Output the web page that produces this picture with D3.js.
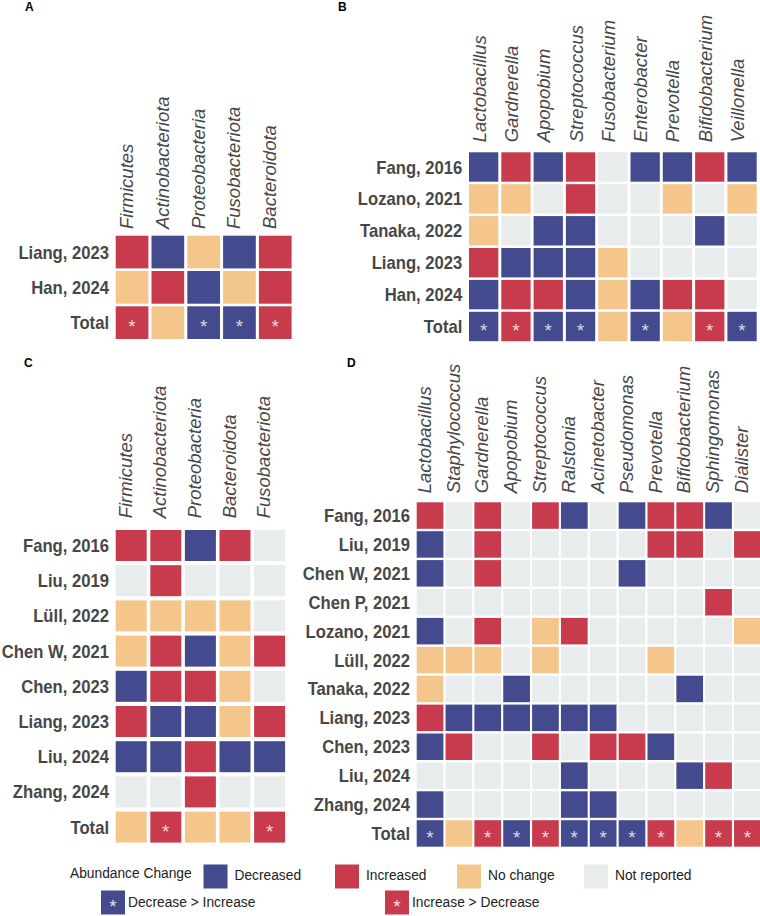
<!DOCTYPE html>
<html>
<head>
<meta charset="utf-8">
<script src="https://cdnjs.cloudflare.com/ajax/libs/d3/7.8.5/d3.min.js"></script>
<style>
body { margin: 0; background: #fff; }
svg { display: block; font-family: "Liberation Sans", Arial, sans-serif; }
</style>
</head>
<body>
<div id="chart"></div>
<script>
// D = decreased, I = increased, N = no change, R = not reported, * = significant direction in Total
var phylaA = ["Firmicutes", "Actinobacteriota", "Proteobacteria", "Fusobacteriota", "Bacteroidota"];
var studiesA = ["Liang, 2023", "Han, 2024", "Total"];
var valuesA = [
    ["I", "D", "N", "D", "I"],
    ["N", "I", "D", "N", "I"],
    ["I*", "N", "D*", "D*", "I*"]
];

var generaB = ["Lactobacillus", "Gardnerella", "Apopobium", "Streptococcus", "Fusobacterium",
    "Enterobacter", "Prevotella", "Bifidobacterium", "Veillonella"];
var studiesB = ["Fang, 2016", "Lozano, 2021", "Tanaka, 2022", "Liang, 2023", "Han, 2024", "Total"];
var valuesB = [
    ["D", "I", "D", "I", "R", "D", "D", "I", "D"],
    ["N", "N", "R", "I", "R", "R", "N", "R", "N"],
    ["N", "R", "D", "D", "R", "R", "R", "D", "R"],
    ["I", "D", "D", "D", "N", "R", "R", "R", "R"],
    ["D", "I", "I", "D", "N", "D", "I", "I", "R"],
    ["D*", "I*", "D*", "D*", "N", "D*", "N", "I*", "D*"]
];

var phylaC = ["Firmicutes", "Actinobacteriota", "Proteobacteria", "Bacteroidota", "Fusobacteriota"];
var studiesC = ["Fang, 2016", "Liu, 2019", "Lüll, 2022", "Chen W, 2021", "Chen, 2023",
    "Liang, 2023", "Liu, 2024", "Zhang, 2024", "Total"];
var valuesC = [
    ["I", "I", "D", "I", "R"],
    ["R", "I", "R", "R", "R"],
    ["N", "N", "N", "N", "R"],
    ["N", "I", "D", "N", "I"],
    ["D", "I", "I", "N", "R"],
    ["I", "D", "D", "N", "I"],
    ["D", "D", "I", "D", "D"],
    ["R", "R", "I", "R", "R"],
    ["N", "I*", "N", "N", "I*"]
];

var generaD = ["Lactobacillus", "Staphylococcus", "Gardnerella", "Apopobium", "Streptococcus", "Ralstonia",
    "Acinetobacter", "Pseudomonas", "Prevotella", "Bifidobacterium", "Sphingomonas", "Dialister"];
var studiesD = ["Fang, 2016", "Liu, 2019", "Chen W, 2021", "Chen P, 2021", "Lozano, 2021", "Lüll, 2022",
    "Tanaka, 2022", "Liang, 2023", "Chen, 2023", "Liu, 2024", "Zhang, 2024", "Total"];
var valuesD = [
    ["I", "R", "I", "R", "I", "D", "R", "D", "I", "I", "D", "R"],
    ["D", "R", "I", "R", "R", "R", "R", "R", "I", "I", "R", "I"],
    ["D", "R", "I", "R", "R", "R", "R", "D", "R", "R", "R", "R"],
    ["R", "R", "R", "R", "R", "R", "R", "R", "R", "R", "I", "R"],
    ["D", "R", "I", "R", "N", "I", "R", "R", "R", "R", "R", "N"],
    ["N", "N", "N", "R", "N", "R", "R", "R", "N", "R", "R", "R"],
    ["N", "R", "R", "D", "R", "R", "R", "R", "R", "D", "R", "R"],
    ["I", "D", "D", "D", "D", "D", "D", "R", "R", "R", "R", "R"],
    ["D", "I", "R", "R", "I", "R", "I", "I", "D", "R", "R", "R"],
    ["R", "R", "R", "R", "R", "D", "R", "R", "R", "D", "I", "R"],
    ["D", "R", "R", "R", "R", "D", "D", "R", "R", "R", "R", "R"],
    ["D*", "N", "I*", "D*", "I*", "D*", "D*", "D*", "I*", "N", "I*", "I*"]
];

var changeKeys = ["D", "I", "N", "R"];
var changeLabels = ["Decreased", "Increased", "No change", "Not reported"];
var starKeys = ["D", "I"];
var starLabels = ["Decrease > Increase", "Increase > Decrease"];

var w = 760, h = 916;
var squeeze = 0.9;   // the figure text is a little condensed
var labelColor = "#474747";

var color = d3.scaleOrdinal()
    .domain(changeKeys)
    .range(["#434a8d", "#c83b4d", "#f5c68c", "#e9ecec"]);

var svg = d3.select("#chart")
    .append("svg")
    .attr("width", w)
    .attr("height", h);

function drawPanel(p) {
    var xScale = d3.scaleBand()
        .domain(p.cols)
        .range([p.x0, p.x0 + (p.cols.length - 1) * p.px + p.cw])
        .paddingInner((p.px - p.cw) / p.px)
        .paddingOuter(0);
    var yScale = d3.scaleBand()
        .domain(p.rows)
        .range([p.y0, p.y0 + (p.rows.length - 1) * p.py + p.ch])
        .paddingInner((p.py - p.ch) / p.py)
        .paddingOuter(0);

    var cells = [];
    p.values.forEach(function (row, i) {
        row.forEach(function (v, j) {
            cells.push({row: p.rows[i], col: p.cols[j], key: v.charAt(0), star: v.indexOf("*") > -1});
        });
    });

    var g = svg.append("g");

    g.append("text")
        .text(p.letter)
        .attr("x", p.letterX)
        .attr("y", p.letterY)
        .attr("font-size", "12px")
        .attr("font-weight", "bold")
        .attr("fill", "#000");

    g.selectAll("rect")
        .data(cells)
        .enter()
        .append("rect")
        .attr("x", function (d) { return xScale(d.col); })
        .attr("y", function (d) { return yScale(d.row); })
        .attr("width", xScale.bandwidth())
        .attr("height", yScale.bandwidth())
        .attr("fill", function (d) { return color(d.key); });

    g.selectAll(".star")
        .data(cells.filter(function (d) { return d.star; }))
        .enter()
        .append("text")
        .attr("class", "star")
        .text("*")
        .attr("text-anchor", "middle")
        .attr("x", function (d) { return xScale(d.col) + xScale.bandwidth() / 2; })
        .attr("y", function (d) { return yScale(d.row) + yScale.bandwidth() / 2 + 10.5; })
        .attr("font-size", "19px")
        .attr("fill", "#fff")
        .attr("fill-opacity", 0.8);

    // study names
    g.selectAll(".rowlab")
        .data(p.rows)
        .enter()
        .append("text")
        .attr("class", "rowlab")
        .text(function (d) { return d; })
        .attr("text-anchor", "end")
        .attr("transform", function (d) {
            return "translate(" + (p.x0 - 6.7) + "," + (yScale(d) + yScale.bandwidth() / 2 + 6.5) + ") scale(" + squeeze + ",1)";
        })
        .attr("font-size", "18.5px")
        .attr("font-weight", "bold")
        .attr("fill", labelColor);

    // taxa names, rotated
    g.selectAll(".collab")
        .data(p.cols)
        .enter()
        .append("text")
        .attr("class", "collab")
        .text(function (d) { return d; })
        .attr("text-anchor", "start")
        .attr("transform", function (d) {
            return "translate(" + (xScale(d) + xScale.bandwidth() / 2 + p.shift) + "," + (p.y0 - p.gap) + ") rotate(-90)";
        })
        .attr("font-size", "18.5px")
        .attr("font-style", "italic")
        .attr("fill", labelColor);
}

drawPanel({letter: "A", letterX: 25, letterY: 10.5, cols: phylaA, rows: studiesA, values: valuesA,
    x0: 115.7, y0: 235.7, px: 35.8, py: 35.3, cw: 32.7, ch: 32.7, gap: 6.7, shift: 1});
drawPanel({letter: "B", letterX: 338, letterY: 10.5, cols: generaB, rows: studiesB, values: valuesB,
    x0: 469, y0: 152.3, px: 32.3, py: 31.9, cw: 29.3, ch: 29.4, gap: 10, shift: 2});
drawPanel({letter: "C", letterX: 24, letterY: 367, cols: phylaC, rows: studiesC, values: valuesC,
    x0: 115.7, y0: 530, px: 34.6, py: 35.2, cw: 31, ch: 31, gap: 11.7, shift: 0.5});
drawPanel({letter: "D", letterX: 347, letterY: 367, cols: generaD, rows: studiesD, values: valuesD,
    x0: 416.7, y0: 502.3, px: 28.85, py: 28.9, cw: 26.7, ch: 26.5, gap: 9, shift: 0.7});

// legend
var legend = svg.append("g");
var legendX = [203.5, 335, 457, 584];
var starX = [101, 385];

legend.append("text")
    .text("Abundance Change")
    .attr("transform", "translate(70,878) scale(" + squeeze + ",1)")
    .attr("font-size", "15.3px")
    .attr("fill", "#222");

legend.selectAll(".key")
    .data(changeKeys)
    .enter()
    .append("rect")
    .attr("class", "key")
    .attr("x", function (d, i) { return legendX[i]; })
    .attr("y", 864.5)
    .attr("width", 24)
    .attr("height", 24)
    .attr("fill", function (d) { return color(d); });

legend.selectAll(".keylab")
    .data(changeLabels)
    .enter()
    .append("text")
    .attr("class", "keylab")
    .text(function (d) { return d; })
    .attr("transform", function (d, i) { return "translate(" + (legendX[i] + 31) + ",880) scale(" + squeeze + ",1)"; })
    .attr("font-size", "15.3px")
    .attr("fill", "#222");

legend.selectAll(".starkey")
    .data(starKeys)
    .enter()
    .append("rect")
    .attr("class", "starkey")
    .attr("x", function (d, i) { return starX[i]; })
    .attr("y", 890.5)
    .attr("width", 24)
    .attr("height", 24)
    .attr("fill", function (d) { return color(d); });

legend.selectAll(".starglyph")
    .data(starKeys)
    .enter()
    .append("text")
    .attr("class", "starglyph")
    .text("*")
    .attr("text-anchor", "middle")
    .attr("x", function (d, i) { return starX[i] + 12; })
    .attr("y", 890.5 + 12 + 10.5)
    .attr("font-size", "19px")
    .attr("fill", "#fff")
    .attr("fill-opacity", 0.85);

legend.selectAll(".starlab")
    .data(starLabels)
    .enter()
    .append("text")
    .attr("class", "starlab")
    .text(function (d) { return d; })
    .attr("transform", function (d, i) { return "translate(" + (starX[i] + 27) + ",907) scale(" + squeeze + ",1)"; })
    .attr("font-size", "15.3px")
    .attr("fill", "#222");
</script>
</body>
</html>
